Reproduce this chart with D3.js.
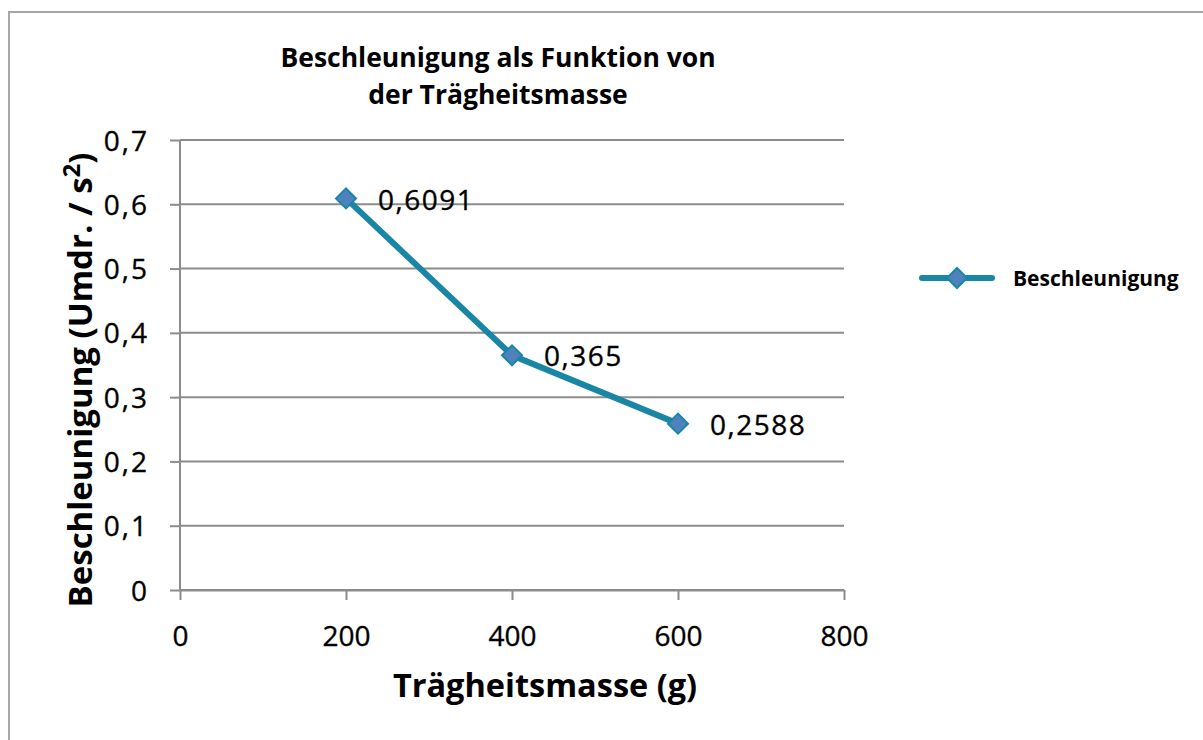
<!DOCTYPE html>
<html>
<head>
<meta charset="utf-8">
<script src="https://cdn.jsdelivr.net/npm/d3@7"></script>
<style>
  html, body { margin: 0; padding: 0; background: #fff; }
  svg { display: block; }
  text { font-family: "Open Sans", "Noto Sans", sans-serif; fill: #000; }
  .num { stroke: #000; stroke-width: 0.35px; }
</style>
</head>
<body>
<svg id="chart" width="1203" height="740"></svg>
<script>
const masses = [200, 400, 600];
const accel = [0.6091, 0.365, 0.2588];
const valueLabels = ["0,6091", "0,365", "0,2588"];
const xTicks = [0, 200, 400, 600, 800];
const yTicks = [0, 0.1, 0.2, 0.3, 0.4, 0.5, 0.6, 0.7];
const seriesName = "Beschleunigung";
const titleLines = ["Beschleunigung als Funktion von", "der Trägheitsmasse"];

const svg = d3.select("#chart");
const lineColor = "#1a86a6";
const markerFill = "#4f81bd";

// outer border
svg.append("rect").attr("x", 9).attr("y", 12).attr("width", 1220).attr("height", 760)
  .attr("fill", "none").attr("stroke", "#a6a6a6").attr("stroke-width", 2);

const x = d3.scaleLinear().domain([0, 800]).range([180, 844]);
const y = d3.scaleLinear().domain([0, 0.7]).range([590, 140]);

// gridlines + y ticks
const yAxis = d3.axisLeft(y).tickValues(yTicks).tickSize(10)
  .tickFormat(d => d3.format(".1f")(d).replace(".", ",").replace(/^0,0$/, "0"));
const gy = svg.append("g").attr("transform", "translate(180,0)").call(yAxis);
gy.select(".domain").remove();
gy.selectAll(".tick line").attr("stroke", "#8c8c8c").attr("stroke-width", 2);
gy.selectAll(".tick text").attr("class", "num").attr("x", -31).attr("font-size", 28)
  .attr("letter-spacing", 2).attr("dy", "0.36em");

svg.append("g").selectAll("line").data(yTicks).join("line")
  .attr("x1", 180).attr("x2", 844)
  .attr("y1", d => y(d)).attr("y2", d => y(d))
  .attr("stroke", "#8c8c8c").attr("stroke-width", 2);

// y axis line
svg.append("line").attr("x1", 180).attr("x2", 180).attr("y1", 140).attr("y2", 590)
  .attr("stroke", "#8c8c8c").attr("stroke-width", 2);

// x axis
const xAxis = d3.axisBottom(x).tickValues(xTicks).tickSize(10).tickSizeOuter(0).tickFormat(d3.format("d"));
const gx = svg.append("g").attr("transform", "translate(0,590)").call(xAxis);
gx.select(".domain").attr("stroke", "#8c8c8c").attr("stroke-width", 2);
gx.selectAll(".tick line").attr("stroke", "#8c8c8c").attr("stroke-width", 2);
gx.selectAll(".tick text").attr("class", "num").attr("y", 46).attr("font-size", 28).attr("dy", "0.36em");

// line
const pts = masses.map((m, i) => [m, accel[i]]);
svg.append("path").datum(pts)
  .attr("d", d3.line().x(d => x(d[0])).y(d => y(d[1])))
  .attr("fill", "none").attr("stroke", lineColor).attr("stroke-width", 6)
  .attr("stroke-linejoin", "round");

const diamond = d3.symbol().type(d3.symbolSquare).size(200);
svg.append("g").selectAll("path").data(pts).join("path")
  .attr("d", diamond)
  .attr("transform", d => `translate(${x(d[0])},${y(d[1])}) rotate(45)`)
  .attr("fill", markerFill).attr("stroke", lineColor).attr("stroke-width", 2);

// value labels
svg.append("g").selectAll("text").data(pts).join("text")
  .attr("class", "num")
  .attr("x", d => x(d[0]) + 32).attr("y", d => y(d[1]) + 1)
  .attr("dy", "0.36em").attr("font-size", 28).attr("letter-spacing", 1.5)
  .text((d, i) => valueLabels[i]);

// title
svg.append("text").attr("x", 498).attr("y", 57)
  .attr("text-anchor", "middle").attr("font-size", 26.5).attr("font-weight", "bold")
  .selectAll("tspan").data(titleLines).join("tspan")
  .attr("x", 498).attr("dy", (d, i) => i === 0 ? "0.36em" : "1.43em").text(d => d);

// x axis title
svg.append("text").attr("x", 545).attr("y", 685).attr("dy", "0.36em")
  .attr("text-anchor", "middle").attr("font-size", 32.5).attr("font-weight", "bold")
  .text("Trägheitsmasse (g)");

// y axis title
const yt = svg.append("text").attr("transform", "translate(80,380) rotate(-90)")
  .attr("text-anchor", "middle").attr("dy", "0.36em")
  .attr("font-size", 33).attr("font-weight", "bold");
yt.append("tspan").text("Beschleunigung (Umdr. / s");
yt.append("tspan").attr("font-size", 24).attr("dy", "-0.5em").text("2");
yt.append("tspan").attr("dy", "0.36em").text(")");

// legend
const lg = svg.append("g").attr("transform", "translate(0,278)");
lg.append("line").attr("x1", 922).attr("x2", 992).attr("y1", 0).attr("y2", 0)
  .attr("stroke", lineColor).attr("stroke-width", 6).attr("stroke-linecap", "round");
lg.append("path").attr("d", diamond).attr("transform", "translate(957,0) rotate(45)")
  .attr("fill", markerFill).attr("stroke", lineColor).attr("stroke-width", 2);
lg.append("text").attr("x", 1013).attr("y", 0).attr("dy", "0.36em")
  .attr("font-size", 21).attr("font-weight", "bold").text(seriesName);
</script>
</body>
</html>
